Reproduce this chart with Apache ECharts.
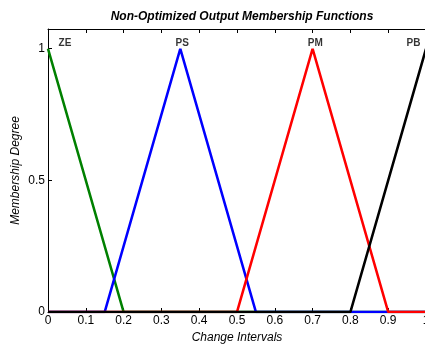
<!DOCTYPE html>
<html>
<head>
<meta charset="utf-8">
<script src="https://cdn.jsdelivr.net/npm/echarts@6/dist/echarts.min.js"></script>
<style>
  html, body { margin: 0; padding: 0; background: #fff; }
  #myChart { width: 425px; height: 344px; }
</style>
</head>
<body>
<div id="myChart"></div>
<script>
// membership functions
const xTicks = [0, 0.1, 0.2, 0.3, 0.4, 0.5, 0.6, 0.7, 0.8, 0.9, 1];
const yTicks = [0, 0.5, 1];

const ze = [[0, 1], [0.2, 0], [1, 0]];
const ps = [[0, 0], [0.15, 0], [0.35, 1], [0.55, 0], [1, 0]];
const pm = [[0, 0], [0.5, 0], [0.7, 1], [0.9, 0], [1, 0]];
const pb = [[0, 0], [0.8, 0], [1, 1]];

const mfNames = ['ZE', 'PS', 'PM', 'PB'];
const mfLabelX = [0.045, 0.355, 0.707, 0.967];
const mfLabelY = 1.022;

const font = '"Liberation Sans", Arial, sans-serif';

const lineSeries = (name, data, color) => ({
  name: name,
  type: 'line',
  data: data,
  symbol: 'none',
  animation: false,
  lineStyle: { color: color, width: 2.6 }
});

const option = {
  title: {
    text: 'Non-Optimized Output Membership Functions',
    left: 237,
    top: 6,
    textAlign: 'center',
    textStyle: { fontFamily: font, fontSize: 12, fontWeight: 'bold', fontStyle: 'italic', color: '#000' }
  },
  grid: { left: 48, top: 29, width: 378, height: 283, outerBoundsMode: 'none', containLabel: false },
  xAxis: [
    {
      type: 'value',
      min: 0,
      max: 1,
      interval: 0.1,
      name: 'Change Intervals',
      nameLocation: 'middle',
      nameGap: 15,
      nameTextStyle: { fontFamily: font, fontSize: 12, fontStyle: 'italic', color: '#000' },
      axisLine: { lineStyle: { color: '#000', width: 1 } },
      axisTick: { inside: true, length: 4, lineStyle: { color: '#000' } },
      axisLabel: {
        fontFamily: font, fontSize: 12, color: '#000', margin: 3,
        formatter: v => (xTicks.includes(Math.round(v * 10) / 10) ? String(Math.round(v * 10) / 10) : '')
      },
      splitLine: { show: false }
    },
    {
      type: 'value',
      position: 'top',
      min: 0,
      max: 1,
      interval: 0.1,
      axisLine: { show: true, lineStyle: { color: '#000', width: 1 } },
      axisTick: { inside: true, length: 4, lineStyle: { color: '#000' } },
      axisLabel: { show: false },
      splitLine: { show: false }
    }
  ],
  yAxis: {
    type: 'value',
    min: 0,
    max: 1.075,
    interval: 0.5,
    name: 'Membership Degree',
    nameLocation: 'middle',
    nameGap: 26,
    nameMoveOverlap: false,
    nameTextStyle: { fontFamily: font, fontSize: 12, fontStyle: 'italic', color: '#000' },
    axisLine: { show: true, lineStyle: { color: '#000', width: 1 } },
    axisTick: { inside: true, length: 4, lineStyle: { color: '#000' } },
    axisLabel: {
      fontFamily: font, fontSize: 12, color: '#000', margin: 3,
      showMaxLabel: false,
      formatter: v => (yTicks.includes(v) ? String(v) : '')
    },
    splitLine: { show: false }
  },
  series: [
    lineSeries('ZE', ze, '#008000'),
    lineSeries('PS', ps, '#0000ff'),
    lineSeries('PM', pm, '#ff0000'),
    lineSeries('PB', pb, '#000000'),
    {
      // MF name labels
      type: 'scatter',
      symbolSize: 0,
      animation: false,
      data: mfNames.map((n, i) => ({ name: n, value: [mfLabelX[i], mfLabelY] })),
      label: {
        show: true,
        position: 'inside',
        formatter: p => p.name,
        fontFamily: font,
        fontSize: 10,
        fontWeight: 'bold',
        color: '#000'
      }
    }
  ]
};

const myChart = echarts.init(document.getElementById('myChart'));
myChart.setOption(option, true);
</script>
</body>
</html>
